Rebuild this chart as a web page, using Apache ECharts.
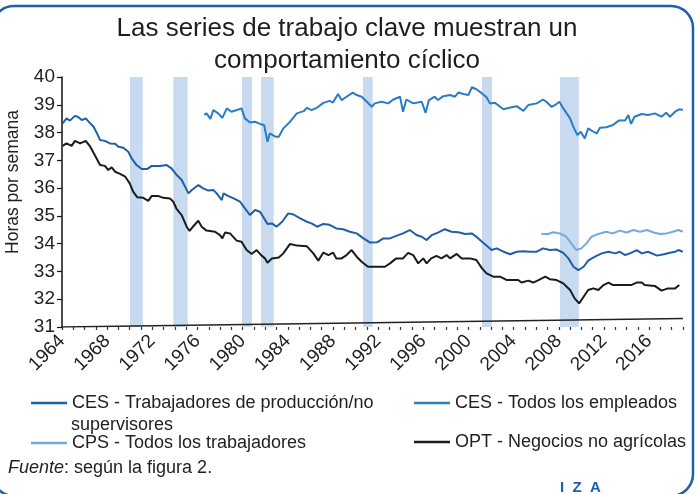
<!DOCTYPE html>
<html><head><meta charset="utf-8">
<script src="https://cdn.jsdelivr.net/npm/echarts@6/dist/echarts.min.js"></script>
<style>html,body{margin:0;padding:0;background:#fff}#c{width:699px;height:494px}</style>
</head><body><div id="c"></div>
<script>
// ---- data ----
const xTickLabels = [1964,1968,1972,1976,1980,1984,1988,1992,1996,2000,2004,2008,2012,2016];
const yTickLabels = [31,32,33,34,35,36,37,38,39,40];

const prodYears = [1964.06,1964.4,1964.7,1965.15,1965.4,1965.75,1966.1,1966.5,1966.8,1967.1,1967.37,1967.8,1968.25,1968.7,1969.0,1969.43,1969.87,1970.17,1970.6,1971.06,1971.56,1971.95,1972.68,1973.27,1973.7,1974.16,1974.6,1975.2,1975.5,1976.07,1976.5,1976.96,1977.4,1977.7,1978.15,1978.3,1978.7,1979.2,1979.77,1980.2,1980.65,1981.1,1981.54,1981.9,1982.2,1982.6,1983.0,1983.5,1984.04,1984.5,1985.1,1985.67,1986.1,1986.6,1987.15,1987.7,1988.3,1988.9,1989.5,1990.1,1990.7,1991.3,1991.9,1992.46,1993.05,1993.6,1994.2,1994.8,1995.4,1995.86,1996.3,1996.75,1997.3,1997.9,1998.5,1999.1,1999.7,2000.3,2000.7,2001.3,2002.06,2002.5,2003.1,2003.7,2004.27,2004.86,2005.45,2006.05,2006.6,2007.2,2007.8,2008.4,2008.85,2009.3,2009.73,2010.2,2010.6,2011.2,2011.8,2012.4,2013.0,2013.4,2013.87,2014.3,2014.9,2015.35,2015.9,2016.7,2017.3,2017.85,2018.3,2018.6,2018.98];
const prodHours = [38.33,38.51,38.43,38.60,38.57,38.45,38.51,38.33,38.21,37.97,37.73,37.70,37.61,37.60,37.49,37.45,37.31,37.07,36.83,36.69,36.69,36.80,36.80,36.83,36.71,36.47,36.29,35.81,35.93,36.11,35.99,35.91,35.93,35.81,35.57,35.81,35.72,35.63,35.51,35.27,35.03,35.21,35.15,34.91,34.71,34.73,34.61,34.79,35.09,35.05,34.91,34.79,34.73,34.61,34.71,34.68,34.55,34.52,34.43,34.37,34.19,34.04,34.05,34.19,34.19,34.28,34.37,34.49,34.31,34.25,34.13,34.31,34.40,34.52,34.43,34.41,34.35,34.37,34.25,34.03,33.77,33.83,33.71,33.62,33.71,33.73,33.71,33.71,33.83,33.77,33.79,33.67,33.47,33.17,33.05,33.17,33.39,33.53,33.65,33.71,33.65,33.71,33.59,33.65,33.77,33.65,33.71,33.57,33.62,33.67,33.71,33.77,33.71];

const allEmpYears = [1976.6,1976.8,1977.15,1977.4,1977.84,1978.2,1978.6,1979.0,1979.5,1979.9,1980.2,1980.65,1981.1,1981.54,1981.9,1982.2,1982.4,1982.9,1983.2,1983.6,1984.2,1984.8,1985.4,1985.7,1986.1,1986.6,1987.15,1987.7,1988.0,1988.45,1988.76,1989.2,1989.75,1990.1,1990.54,1991.0,1991.44,1991.7,1992.3,1992.9,1993.35,1993.94,1994.2,1994.5,1995.1,1995.86,1996.2,1996.5,1997.0,1997.3,1997.77,1998.37,1998.8,1999.1,1999.55,1999.99,2000.3,2000.7,2001.2,2001.6,2001.9,2002.35,2003.1,2003.7,2004.27,2004.86,2005.3,2006.05,2006.6,2006.9,2007.35,2007.67,2008.05,2008.4,2009.0,2009.35,2009.65,2009.94,2010.3,2010.6,2011.06,2011.36,2011.65,2012.2,2012.8,2013.3,2013.87,2014.16,2014.4,2014.7,2015.35,2015.9,2016.5,2017.1,2017.5,2017.85,2018.3,2018.7,2018.98];
const allEmpHours = [38.63,38.69,38.49,38.81,38.69,38.53,38.87,38.75,38.81,38.87,38.51,38.36,38.39,38.31,38.27,37.67,37.97,37.85,37.85,38.15,38.39,38.69,38.77,38.89,38.81,38.90,39.07,39.14,39.08,39.39,39.17,39.29,39.44,39.35,39.29,39.11,38.93,39.05,39.11,39.05,39.19,39.29,38.75,39.19,39.05,39.11,38.71,39.17,39.29,39.17,39.31,39.35,39.29,39.44,39.39,39.35,39.63,39.56,39.41,39.27,39.05,39.07,38.84,38.90,38.95,38.78,38.99,39.05,39.19,39.11,38.93,38.99,39.11,38.87,38.51,38.15,37.91,38.03,37.79,38.15,38.03,37.97,38.17,38.19,38.27,38.43,38.43,38.63,38.31,38.57,38.67,38.63,38.69,38.57,38.71,38.57,38.75,38.84,38.81];

const cpsYears = [2006.46,2007.05,2007.5,2008.07,2008.67,2009.1,2009.56,2010.0,2010.45,2010.9,2011.5,2012.2,2012.8,2013.4,2014.0,2014.6,2015.2,2015.8,2016.4,2016.97,2017.55,2018.1,2018.6,2018.98];
const cpsHours = [34.35,34.35,34.41,34.37,34.25,34.01,33.77,33.83,34.01,34.25,34.35,34.43,34.37,34.47,34.40,34.49,34.43,34.49,34.40,34.35,34.37,34.43,34.49,34.43];

const optYears = [1964.06,1964.4,1964.85,1965.15,1965.6,1966.1,1966.5,1966.9,1967.37,1967.8,1968.1,1968.4,1968.7,1969.14,1969.6,1970.0,1970.3,1970.67,1971.2,1971.64,1971.95,1972.5,1972.97,1973.56,1973.86,1974.16,1974.6,1975.04,1975.3,1975.6,1976.07,1976.37,1976.8,1977.55,1977.99,1978.2,1978.44,1978.88,1979.47,1979.9,1980.35,1980.8,1981.24,1981.7,1981.98,1982.2,1982.6,1983.2,1983.6,1984.2,1984.8,1985.67,1986.26,1986.7,1987.15,1987.6,1988.0,1988.3,1988.76,1989.2,1989.65,1990.1,1990.54,1991.1,1991.7,1992.6,1993.05,1993.6,1994.2,1994.65,1995.1,1995.55,1995.99,1996.3,1996.7,1997.17,1997.6,1998.07,1998.37,1998.96,1999.4,2000.14,2000.7,2001.2,2001.6,2002.2,2002.8,2003.4,2003.97,2004.4,2004.7,2005.3,2005.74,2006.2,2006.8,2007.2,2007.8,2008.4,2009.0,2009.4,2009.8,2010.2,2010.6,2011.06,2011.5,2011.96,2012.4,2012.8,2013.7,2014.4,2014.9,2015.35,2015.6,2016.5,2017.1,2017.67,2018.3,2018.67];
const optHours = [37.52,37.61,37.52,37.70,37.61,37.70,37.49,37.19,36.83,36.80,36.65,36.75,36.59,36.51,36.41,36.17,35.87,35.67,35.65,35.54,35.72,35.72,35.65,35.63,35.51,35.24,35.03,34.61,34.46,34.61,34.83,34.61,34.47,34.43,34.31,34.19,34.40,34.37,34.11,34.07,33.77,33.63,33.77,33.56,33.47,33.31,33.47,33.50,33.65,33.99,33.93,33.91,33.65,33.39,33.68,33.59,33.68,33.47,33.47,33.59,33.77,33.53,33.35,33.17,33.17,33.17,33.29,33.47,33.47,33.67,33.59,33.29,33.47,33.29,33.47,33.56,33.47,33.59,33.47,33.63,33.47,33.47,33.41,33.11,32.93,32.81,32.81,32.69,32.69,32.69,32.60,32.67,32.60,32.69,32.81,32.72,32.69,32.57,32.33,32.03,31.85,32.09,32.33,32.39,32.33,32.51,32.60,32.51,32.51,32.51,32.60,32.60,32.51,32.48,32.31,32.39,32.39,32.51];

// baseline drawn at the foot of the plot (slightly rising)
const baseYears = [1964, 2019];
const baseValues = [31.0, 31.31];

// recession periods (start, end)
const recStart = [1970.02,1973.86,1979.94,1981.63,1990.66,2001.2,2008.1];
const recEnd   = [1971.15,1975.13,1980.83,1982.75,1991.52,2002.09,2009.77];

const names = ['CES - Trabajadores de producción/no supervisores','CES - Todos los empleados','CPS - Todos los trabajadores','OPT - Negocios no agrícolas'];
const colors = ['#1f5fa9','#2b7cc2','#74a9da','#1b1b1b'];

// ---- chart ----
const FF = '"Liberation Sans", Arial, sans-serif';
const pairs = (xs, ys) => xs.map((x, i) => [x, ys[i]]);
const chart = echarts.init(document.getElementById('c'), null, {renderer: 'canvas'});

const legendCommon = {
  orient: 'horizontal', icon: 'rect', itemWidth: 36, itemHeight: 2.5, padding: 0,
  selectedMode: false, textStyle: {fontSize: 18, color: '#222', fontFamily: FF}
};

chart.setOption({
  animation: false,
  backgroundColor: '#fff',
  title: {
    text: 'Las series de trabajo clave muestran un\ncomportamiento cíclico',
    left: 342, textAlign: 'center', top: 8,
    textStyle: {fontSize: 26, fontWeight: 'normal', color: '#1e1e1e', fontFamily: FF, lineHeight: 32}
  },
  grid: {left: 62, right: 16, top: 77, bottom: 167},
  xAxis: {
    type: 'value', min: 1964, max: 2019, interval: 1,
    axisLine: {show: false},
    axisTick: {show: true, length: 3, lineStyle: {color: '#333', width: 1.2}},
    splitLine: {show: false},
    axisLabel: {
      rotate: 45, margin: 11, fontSize: 19, color: '#222', fontFamily: FF,
      formatter: v => xTickLabels.indexOf(v) >= 0 ? String(v) : ''
    }
  },
  yAxis: {
    type: 'value', min: yTickLabels[0], max: yTickLabels[yTickLabels.length - 1], interval: 1,
    axisLine: {show: true, lineStyle: {color: '#111', width: 1.5}},
    axisTick: {show: true, length: 5, lineStyle: {color: '#111', width: 1.2}},
    splitLine: {show: false},
    axisLabel: {fontSize: 19, color: '#222', fontFamily: FF, margin: 7}
  },
  legend: [
    Object.assign({}, legendCommon, {data: [names[0]], left: 31, top: 394, formatter: () => 'CES - Trabajadores de producción/no'}),
    Object.assign({}, legendCommon, {data: [names[2]], left: 31, top: 434}),
    Object.assign({}, legendCommon, {data: [names[1]], left: 414, top: 394}),
    Object.assign({}, legendCommon, {data: [names[3]], left: 414, top: 433})
  ],
  graphic: [
    {type: 'rect', z: 100, silent: true, shape: {x: -8, y: 6, width: 701, height: 490, r: 22},
     style: {fill: 'none', stroke: '#1c5fad', lineWidth: 2.5}},
    {type: 'text', x: 13, y: 182, rotation: Math.PI / 2, silent: true,
     style: {text: 'Horas por semana', fontSize: 17.5, fill: '#222', fontFamily: FF, align: 'center', verticalAlign: 'middle'}},
    {type: 'text', x: 71, y: 425, silent: true,
     style: {text: 'supervisores', fontSize: 18, fill: '#222', fontFamily: FF, verticalAlign: 'middle'}},
    {type: 'text', x: 8, y: 468, silent: true,
     style: {text: '{i|Fuente}: según la figura 2.', fontSize: 18, fill: '#222', fontFamily: FF, verticalAlign: 'middle',
       rich: {i: {fontStyle: 'italic', fontSize: 18, fill: '#222', fontFamily: FF}}}},
    {type: 'text', x: 560, y: 488, silent: true,
     style: {text: 'I  Z  A', fontSize: 15, fontWeight: 'bold', fill: '#1c5fad', fontFamily: FF, verticalAlign: 'middle'}}
  ],
  series: [
    {
      name: 'base', type: 'line', z: 1, showSymbol: false, silent: true,
      data: pairs(baseYears, baseValues),
      lineStyle: {color: '#222', width: 1.5}, itemStyle: {color: '#222'},
      markArea: {
        silent: true,
        itemStyle: {color: '#c7daef'},
        data: recStart.map((s, i) => [{xAxis: s}, {xAxis: recEnd[i]}])
      }
    },
    {name: names[0], type: 'line', z: 3, showSymbol: false, data: pairs(prodYears, prodHours),
     lineStyle: {color: colors[0], width: 2}, itemStyle: {color: colors[0]}},
    {name: names[1], type: 'line', z: 3, showSymbol: false, data: pairs(allEmpYears, allEmpHours),
     lineStyle: {color: colors[1], width: 2}, itemStyle: {color: colors[1]}},
    {name: names[2], type: 'line', z: 3, showSymbol: false, data: pairs(cpsYears, cpsHours),
     lineStyle: {color: colors[2], width: 2}, itemStyle: {color: colors[2]}},
    {name: names[3], type: 'line', z: 3, showSymbol: false, data: pairs(optYears, optHours),
     lineStyle: {color: colors[3], width: 2}, itemStyle: {color: colors[3]}}
  ]
});
</script>
</body></html>
